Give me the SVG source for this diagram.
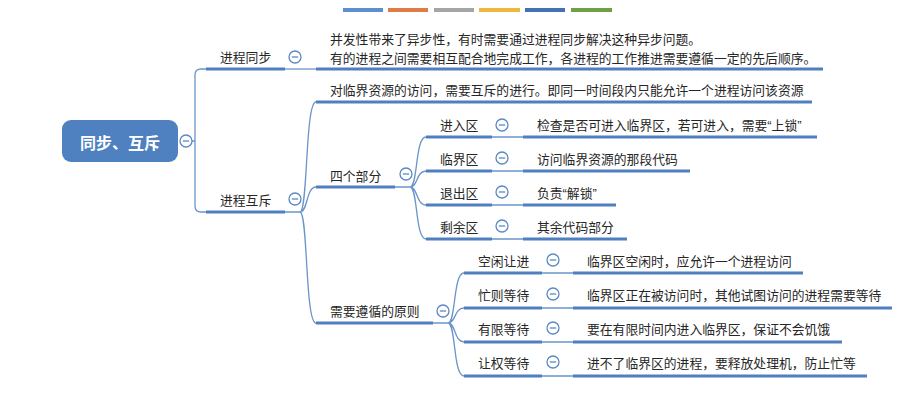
<svg xmlns="http://www.w3.org/2000/svg" width="924" height="416" viewBox="0 0 924 416">
<style>
text{font-family:"Noto Sans CJK SC","Noto Sans",sans-serif;font-size:12.8px;fill:#262626}
.q{font-family:"Liberation Sans","Noto Sans CJK SC",sans-serif}
.ul{stroke:#4f7fbf;stroke-width:3;fill:none}
.ln{stroke:#6a95cb;stroke-width:1.3;fill:none}
.tg circle{fill:#fff;stroke:#5b89c4;stroke-width:1.3}
.tg line{stroke:#5b89c4;stroke-width:1.3}
.root{font-size:16px;font-weight:bold;fill:#fff}
</style>
<defs>
<g id="tog" class="tg"><circle r="6"/><line x1="-3.2" x2="3.2" y1="0" y2="0"/></g>
</defs>
<rect width="924" height="416" fill="#fff"/>
<g id="palette">
<rect x="343" y="8" width="40" height="4" fill="#5b8fd0"/>
<rect x="388" y="8" width="40" height="4" fill="#e07b45"/>
<rect x="434" y="8" width="40" height="4" fill="#a5a5a5"/>
<rect x="479" y="8" width="41" height="4" fill="#f1b63c"/>
<rect x="525" y="8" width="40" height="4" fill="#4470b8"/>
<rect x="571" y="8" width="41" height="4" fill="#6ea046"/>
</g>
<g id="connectors">
<path class="ln" d="M192,141 H195 M206,69 H201 Q195,69 195,75 V206 Q195,212 201,212 H206"/>
<path class="ln" d="M285,69 H316"/>
<path class="ln" d="M285,212 H300 M300,212 C308,212 305,102 316,102 M300,212 C308,212 306,187 316,187 M300,212 C308,212 305,323 316,323"/>
<path class="ln" d="M395,187 H410 M410,187 C418,187 415,137 426,137 M410,187 C418,187 416,171 426,171 M410,187 C418,187 416,205 426,205 M410,187 C418,187 415,239 426,239"/>
<path class="ln" d="M433,323 H448 M448,323 C456,323 453,273 464,273 M448,323 C456,323 454,308 464,308 M448,323 C456,323 454,342 464,342 M448,323 C456,323 453,376 464,376"/>
<path class="ln" d="M492,137 H523 M492,171 H523 M492,205 H523 M492,239 H523"/>
<path class="ln" d="M542,273 H573 M542,308 H573 M542,342 H573 M542,376 H573"/>
</g>
<g id="root">
<rect x="62" y="120" width="116" height="42" rx="9" fill="#4f80c0"/>
<text class="root" x="120" y="149" text-anchor="middle">同步、互斥</text>
<use href="#tog" x="186" y="141"/>
</g>
<g id="sync">
<line class="ul" x1="206" y1="69" x2="285" y2="69"/>
<text x="220" y="61.5">进程同步</text>
<use href="#tog" x="295" y="57"/>
</g>
<g id="sync-desc">
<line class="ul" x1="316" y1="69" x2="823" y2="69"/>
<text><tspan x="330" y="44">并发性带来了异步性，有时需要通过进程同步解决这种异步问题。</tspan><tspan x="330" y="62.5">有的进程之间需要相互配合地完成工作，各进程的工作推进需要遵循一定的先后顺序。</tspan></text>
</g>
<g id="mutex">
<line class="ul" x1="206" y1="212" x2="285" y2="212"/>
<text x="220" y="204.5">进程互斥</text>
<use href="#tog" x="295" y="199"/>
</g>
<g id="mutex-desc">
<line class="ul" x1="316" y1="102" x2="812" y2="102"/>
<text x="330" y="94.5">对临界资源的访问，需要互斥的进行。即同一时间段内只能允许一个进程访问该资源</text>
</g>
<g id="four-parts">
<line class="ul" x1="316" y1="187" x2="395" y2="187"/>
<text x="330" y="180.5">四个部分</text>
<use href="#tog" x="406" y="174"/>
</g>
<g id="entry">
<line class="ul" x1="426" y1="137" x2="492" y2="137"/>
<text x="440" y="129.5">进入区</text>
<use href="#tog" x="502" y="125"/>
</g>
<g id="entry-desc">
<line class="ul" x1="523" y1="137" x2="817" y2="137"/>
<text x="537" y="129.5">检查是否可进入临界区，若可进入，需要<tspan class="q">“</tspan>上锁<tspan class="q">”</tspan></text>
</g>
<g id="critical">
<line class="ul" x1="426" y1="171" x2="492" y2="171"/>
<text x="440" y="163.5">临界区</text>
<use href="#tog" x="502" y="158"/>
</g>
<g id="critical-desc">
<line class="ul" x1="523" y1="171" x2="690" y2="171"/>
<text x="537" y="163.5">访问临界资源的那段代码</text>
</g>
<g id="exit">
<line class="ul" x1="426" y1="205" x2="492" y2="205"/>
<text x="440" y="197.5">退出区</text>
<use href="#tog" x="502" y="192"/>
</g>
<g id="exit-desc">
<line class="ul" x1="523" y1="205" x2="616" y2="205"/>
<text x="537" y="197.5">负责<tspan class="q">“</tspan>解锁<tspan class="q">”</tspan></text>
</g>
<g id="remainder">
<line class="ul" x1="426" y1="239" x2="492" y2="239"/>
<text x="440" y="231.5">剩余区</text>
<use href="#tog" x="502" y="226"/>
</g>
<g id="remainder-desc">
<line class="ul" x1="523" y1="239" x2="627" y2="239"/>
<text x="537" y="231.5">其余代码部分</text>
</g>
<g id="principles">
<line class="ul" x1="316" y1="323" x2="433" y2="323"/>
<text x="330" y="315.5">需要遵循的原则</text>
<use href="#tog" x="443" y="311"/>
</g>
<g id="idle">
<line class="ul" x1="464" y1="273" x2="542" y2="273"/>
<text x="478" y="265.5">空闲让进</text>
<use href="#tog" x="553" y="260"/>
</g>
<g id="idle-desc">
<line class="ul" x1="573" y1="273" x2="803" y2="273"/>
<text x="587" y="265.5">临界区空闲时，应允许一个进程访问</text>
</g>
<g id="busy">
<line class="ul" x1="464" y1="308" x2="542" y2="308"/>
<text x="478" y="300">忙则等待</text>
<use href="#tog" x="553" y="294"/>
</g>
<g id="busy-desc">
<line class="ul" x1="573" y1="308" x2="892" y2="308"/>
<text x="587" y="300">临界区正在被访问时，其他试图访问的进程需要等待</text>
</g>
<g id="bounded">
<line class="ul" x1="464" y1="342" x2="542" y2="342"/>
<text x="478" y="334">有限等待</text>
<use href="#tog" x="553" y="328"/>
</g>
<g id="bounded-desc">
<line class="ul" x1="573" y1="342" x2="842" y2="342"/>
<text x="587" y="334">要在有限时间内进入临界区，保证不会饥饿</text>
</g>
<g id="yield">
<line class="ul" x1="464" y1="376" x2="542" y2="376"/>
<text x="478" y="368">让权等待</text>
<use href="#tog" x="553" y="362"/>
</g>
<g id="yield-desc">
<line class="ul" x1="573" y1="376" x2="867" y2="376"/>
<text x="587" y="368">进不了临界区的进程，要释放处理机，防止忙等</text>
</g>
</svg>
